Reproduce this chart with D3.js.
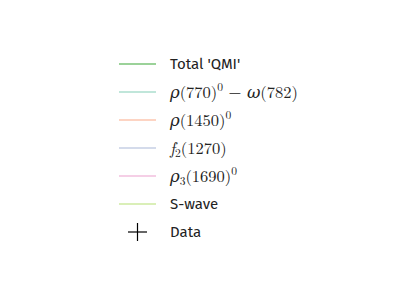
<!DOCTYPE html>
<html><head><meta charset="utf-8">
<script src="https://cdn.jsdelivr.net/npm/d3@7"></script>
<style>body{margin:0;background:#fff}</style>
</head><body>
<svg id="c" width="407" height="305"></svg>
<script>
const labels = ["Total 'QMI'", "rho770", "rho1450", "f2", "rho3", "S-wave", "Data"];
const colors = ["rgba(77,175,74,0.75)", "rgba(102,194,165,0.55)", "rgba(252,141,98,0.5)", "rgba(141,160,203,0.5)", "rgba(231,138,195,0.55)", "rgba(166,216,84,0.55)", "#000"];
const kinds = ["line","line","line","line","line","line","cross"];

const svg = d3.select("#c");
const y = d3.scalePoint().domain(labels).range([64, 232]);
const g = svg.selectAll("g.item").data(labels).join("g").attr("class","item")
  .attr("transform", d => `translate(0,${y(d)})`);

g.each(function(d, i){
  const s = d3.select(this);
  if (kinds[i] === "line") {
    s.append("line").attr("x1",119).attr("x2",156).attr("y1",0).attr("y2",0)
      .attr("stroke",colors[i]).attr("stroke-width",1.6);
  } else {
    s.append("line").attr("x1",128).attr("x2",147).attr("y1",0).attr("y2",0).attr("stroke","#000").attr("stroke-width",1.2);
    s.append("line").attr("x1",137.5).attr("x2",137.5).attr("y1",-9).attr("y2",9).attr("stroke","#000").attr("stroke-width",1.2);
  }
  const sans = "'Fira Sans','Open Sans',sans-serif";
  const serif = "'Latin Modern Roman','DejaVu Serif','Liberation Serif',serif";
  const t = s.append("text").attr("x",170).attr("y",5).attr("fill","#222");
  const add = (txt, opts={}) => {
    const ts = t.append("tspan").text(txt);
    if (opts.it) ts.attr("font-style","italic");
    if (opts.fs) ts.attr("font-size",opts.fs);
    if (opts.dy) ts.attr("dy",opts.dy);
    return ts;
  };
  if (d === "Total 'QMI'" || d === "S-wave" || d === "Data") {
    t.attr("font-family",sans).attr("font-size",15).attr("font-weight",400).attr("y",5.3).text(d);
  } else {
    t.attr("font-family",serif).attr("font-size",16.5).attr("y",5.5);
    if (d === "rho770") {
      add("ρ",{it:true}); add("(770)"); add("0",{fs:11.5,dy:-7}); add(" − ",{dy:7}); add("ω",{it:true}); add("(782)");
    } else if (d === "rho1450") {
      add("ρ",{it:true}); add("(1450)"); add("0",{fs:11.5,dy:-7});
    } else if (d === "f2") {
      add("f",{it:true}); add("2",{fs:11.5,dy:3}); add("(1270)",{dy:-3});
    } else if (d === "rho3") {
      add("ρ",{it:true}); add("3",{fs:11.5,dy:3}); add("(1690)",{dy:-3}); add("0",{fs:11.5,dy:-7});
    }
  }
});
</script>
</body></html>
